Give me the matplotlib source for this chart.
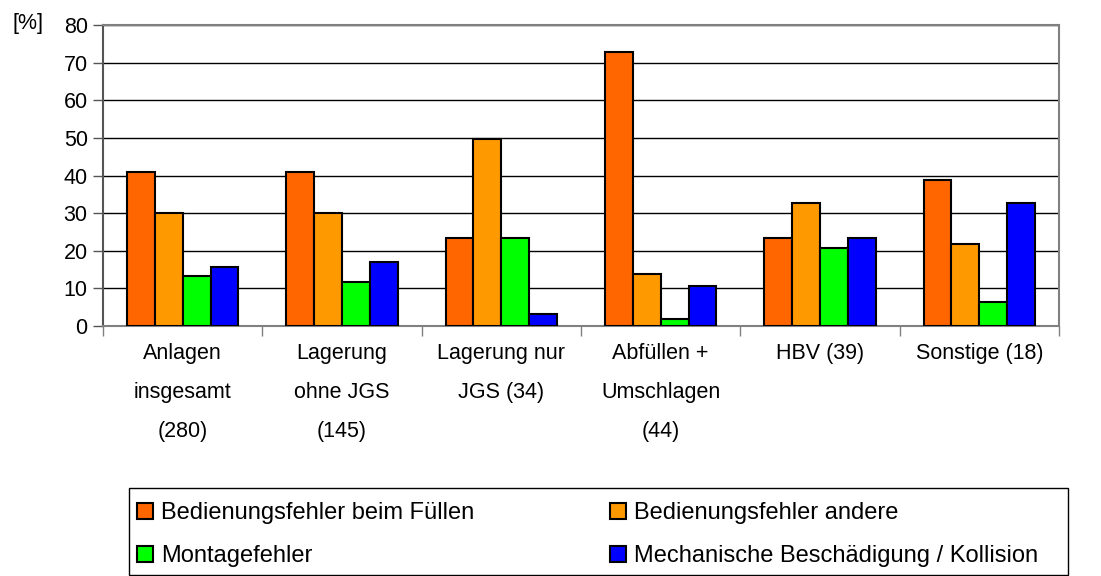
import matplotlib
matplotlib.use("Agg")
import matplotlib.pyplot as plt
from matplotlib.patches import Rectangle
import numpy as np

plt.rcParams['font.family'] = ['Liberation Sans', 'DejaVu Sans']

categories = ["Anlagen\ninsgesamt\n(280)", "Lagerung\nohne JGS\n(145)", "Lagerung nur\nJGS (34)",
              "Abfüllen +\nUmschlagen\n(44)", "HBV (39)", "Sonstige (18)"]
series_names = ["Bedienungsfehler beim Füllen", "Bedienungsfehler andere",
                "Montagefehler", "Mechanische Beschädigung / Kollision"]
fuellen = [41, 41, 23.3, 72.9, 23.3, 38.9]
andere = [30, 30, 49.8, 13.8, 32.7, 21.9]
montage = [13.2, 11.8, 23.3, 1.8, 20.8, 6.3]
mechanisch = [15.7, 16.9, 3.2, 10.6, 23.3, 32.7]
colors = ["#FF6600", "#FF9900", "#00FF00", "#0000FF"]

fs = 15.5
W, H = 1101, 576

fig = plt.figure(figsize=(W / 100, H / 100), dpi=100)
ax = fig.add_axes([103/W, 1 - 326/H, 956/W, 301/H])

x = np.arange(len(categories))
w = 0.175
bars = []
for i, (vals, col, name) in enumerate(zip([fuellen, andere, montage, mechanisch], colors, series_names)):
    b = ax.bar(x + (i - 1.5) * w, vals, w, color=col, edgecolor="black", linewidth=1.5,
               label=name, zorder=3)
    bars.append(b)

ax.set_xlim(-0.5, len(categories) - 0.5)
ax.set_ylim(0, 80)
ax.set_yticks(range(0, 81, 10))
ax.tick_params(axis='y', labelsize=fs, length=7, width=1, color="#555555", pad=4)
ax.yaxis.grid(True, color="black", linewidth=1, zorder=0)

# category ticks sit between the groups, labels under the centres
ax.set_xticks(np.arange(-0.5, len(categories), 1))
ax.set_xticklabels([])
ax.tick_params(axis='x', length=7, width=1, color="#808080", direction='out')
for xi, lab in zip(x, categories):
    ax.text(xi, -4.6, lab, ha="center", va="top", fontsize=fs, linespacing=2.1,
            transform=ax.transData)

for s in ax.spines.values():
    s.set_color("#808080")
    s.set_linewidth(1.5)
ax.spines['left'].set_color("#555555")

fig.text(12/W, 1 - 23/H, "[%]", fontsize=fs, va="center", ha="left")

# legend box drawn separately, entries placed row-wise
fig.patches.append(Rectangle((129/W, 1 - 575/H), (1068 - 129)/W, (575 - 488)/H,
                             transform=fig.transFigure, fill=False, edgecolor="black",
                             linewidth=1))
order = [0, 2, 1, 3]
lfs = 17
leg = fig.legend([bars[i] for i in order], [series_names[i] for i in order],
                 loc="upper left", bbox_to_anchor=(137/W, 1 - 502/H),
                 ncol=2, fontsize=lfs, frameon=False,
                 handlelength=0.68, handleheight=0.68, handletextpad=0.34,
                 labelspacing=0.9, borderpad=0, borderaxespad=0, columnspacing=5.75)

fig.savefig("out.png", dpi=100)
